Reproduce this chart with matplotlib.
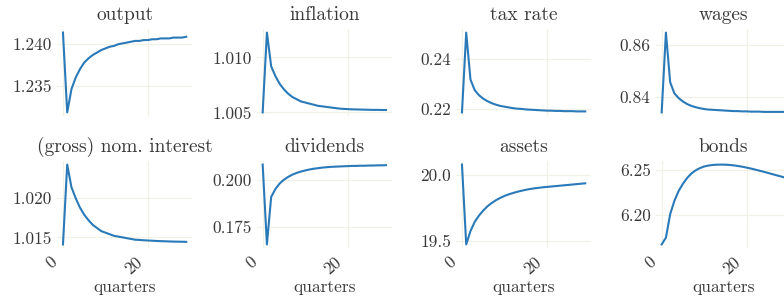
import numpy as np
import matplotlib
matplotlib.use("Agg")
import matplotlib.pyplot as plt
from matplotlib.transforms import Affine2D

plt.rcParams["font.family"] = ["cmr10", "DejaVu Serif"]
plt.rcParams["axes.formatter.use_mathtext"] = True
plt.rcParams["text.color"] = "#383838"
plt.rcParams["xtick.color"] = "#383838"
plt.rcParams["ytick.color"] = "#383838"

quarters = list(range(30))

output = [1.2414, 1.2318, 1.2346, 1.2360, 1.2370, 1.2378, 1.2383, 1.2387, 1.2390, 1.2393,
          1.2395, 1.2397, 1.2398, 1.2400, 1.2401, 1.2402, 1.2403, 1.2404, 1.2404, 1.2405,
          1.2405, 1.2406, 1.2406, 1.2407, 1.2407, 1.2407, 1.2408, 1.2408, 1.2408, 1.2409]
inflation = [1.0050, 1.01226, 1.0092, 1.0083, 1.0076, 1.0071, 1.0067, 1.0064, 1.0062, 1.0060,
             1.0059, 1.0058, 1.0057, 1.0056, 1.00555, 1.0055, 1.00545, 1.0054, 1.00535, 1.00532,
             1.0053, 1.00528, 1.00527, 1.00526, 1.00525, 1.00524, 1.00523, 1.00523, 1.00522, 1.00522]
tax_rate = [0.2186, 0.2506, 0.2318, 0.2275, 0.2255, 0.2241, 0.2231, 0.2223, 0.2217, 0.2212,
            0.2209, 0.2206, 0.2203, 0.2201, 0.2200, 0.2198, 0.2197, 0.2196, 0.2195, 0.2194,
            0.2193, 0.2193, 0.2192, 0.2192, 0.2191, 0.2191, 0.2191, 0.2190, 0.2190, 0.2190]
wages = [0.8342, 0.8649, 0.8458, 0.8415, 0.8397, 0.8384, 0.8374, 0.8367, 0.8362, 0.8358,
         0.8355, 0.8353, 0.8352, 0.8351, 0.8350, 0.8349, 0.8348, 0.8347, 0.8347, 0.8346,
         0.8346, 0.8345, 0.8345, 0.8345, 0.8344, 0.8344, 0.8344, 0.8344, 0.8344, 0.8344]
interest = [1.0141, 1.0243, 1.0214, 1.0200, 1.0188, 1.0179, 1.0172, 1.0166, 1.0162, 1.0158,
            1.0156, 1.0154, 1.0152, 1.0151, 1.0150, 1.0149, 1.0148, 1.0147, 1.01467, 1.01463,
            1.0146, 1.01457, 1.01454, 1.01452, 1.0145, 1.01448, 1.01446, 1.01445, 1.01444, 1.01443]
dividends = [0.2079, 0.1657, 0.1908, 0.1950, 0.1979, 0.1999, 0.2014, 0.2026, 0.2035, 0.2042,
             0.2048, 0.2053, 0.2057, 0.2060, 0.2063, 0.2065, 0.2067, 0.2068, 0.2069, 0.2070,
             0.2071, 0.2072, 0.2072, 0.2073, 0.2073, 0.2074, 0.2074, 0.2075, 0.2075, 0.2076]
assets = [20.076, 19.475, 19.575, 19.645, 19.692, 19.730, 19.762, 19.787, 19.808, 19.825,
          19.840, 19.852, 19.862, 19.871, 19.879, 19.886, 19.892, 19.897, 19.901, 19.905,
          19.908, 19.911, 19.914, 19.917, 19.920, 19.923, 19.926, 19.929, 19.932, 19.935]
bonds = [6.1673, 6.1748, 6.2010, 6.2160, 6.2270, 6.2350, 6.2415, 6.2465, 6.2500, 6.2525,
         6.2543, 6.2553, 6.2560, 6.2563, 6.2564, 6.2563, 6.2560, 6.2555, 6.2548, 6.2540,
         6.2530, 6.2520, 6.2508, 6.2496, 6.2484, 6.2471, 6.2458, 6.2445, 6.2432, 6.2419]

titles = ["output", "inflation", "tax rate", "wages",
          "(gross) nom. interest", "dividends", "assets", "bonds"]
series = [output, inflation, tax_rate, wages, interest, dividends, assets, bonds]
yticks = [[1.235, 1.240], [1.005, 1.010], [0.22, 0.24], [0.84, 0.86],
          [1.015, 1.020], [0.175, 0.200], [19.5, 20.0], [6.20, 6.25]]
ytick_fmt = ["%.3f", "%.3f", "%.2f", "%.2f", "%.3f", "%.3f", "%.1f", "%.2f"]
xticks = [0, 20]
xlabel = "quarters"

fig = plt.figure(figsize=(7.84, 3.01), dpi=100)

W, H = 784, 301
lefts = [56.8, 256.5, 455.8, 655.5]
width = 135.6
rows = [(28.6, 116.4), (160.6, 248.4)]
grid_col = "#f1f1e6"

xlabs = []  # (text, tick x in px later)
for i, (name, y) in enumerate(zip(titles, series)):
    r, c = divmod(i, 4)
    top, bot = rows[r]
    ax = fig.add_axes([lefts[c] / W, (H - bot) / H, width / W, (bot - top) / H])
    ax.plot(quarters, y, color="#2a7ab9", lw=1.5)
    ax.set_title(name, fontsize=14, pad=6)
    ax.set_xticks(xticks)
    ax.set_yticks(yticks[i])
    ax.set_yticklabels([ytick_fmt[i] % v for v in yticks[i]])
    ax.grid(True, color=grid_col, lw=0.9)
    ax.set_axisbelow(True)
    for s in ax.spines.values():
        s.set_visible(False)
    ax.tick_params(length=0, labelsize=12.5, pad=3.5, labelbottom=False)
    if r == 1:
        for xt in xticks:
            t = ax.text(xt, 0, str(xt), transform=ax.get_xaxis_transform(),
                        rotation=40, ha="right", va="top", fontsize=12.5,
                        clip_on=False)
            xlabs.append((t, ax, xt))
        fig.text((lefts[c] + width / 2) / W, (H - 292) / H, xlabel,
                 ha="center", va="baseline", fontsize=12.5)

# nudge the rotated tick labels so they sit like the original ones
fig.canvas.draw()
renderer = fig.canvas.get_renderer()
for t, ax, xt in xlabs:
    bb = t.get_window_extent(renderer)
    xpx = ax.transData.transform((xt, 0))[0]
    dx = (xpx - 3) - bb.x1
    dy = (H - 254) - bb.y1
    t.set_transform(t.get_transform() + Affine2D().translate(dx, dy))

fig.savefig("out.png", dpi=100)
